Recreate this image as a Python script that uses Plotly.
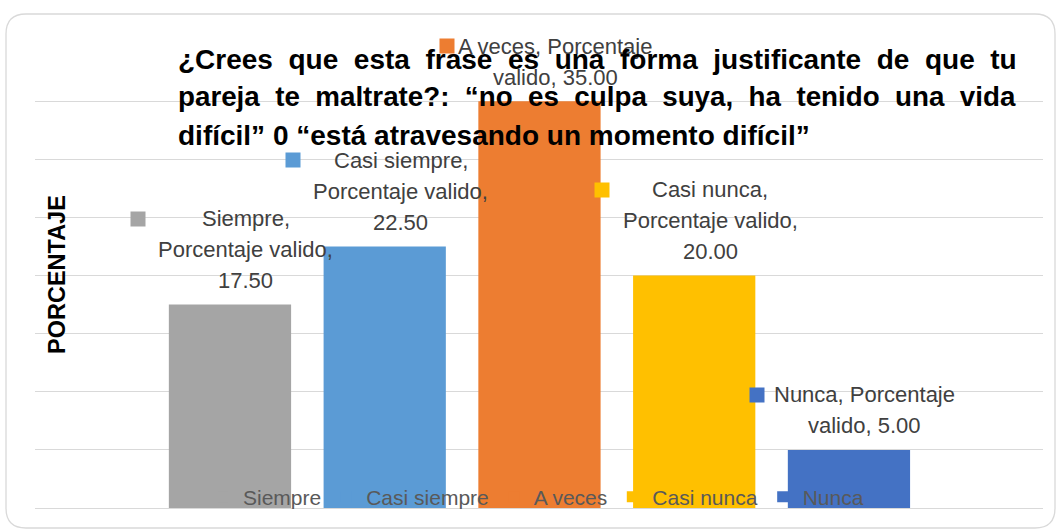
import plotly.graph_objects as go

categories = ["Siempre", "Casi siempre", "A veces", "Casi nunca", "Nunca"]
values = [17.50, 22.50, 35.00, 20.00, 5.00]
colors = ["#A5A5A5", "#5B9BD5", "#ED7D31", "#FFC000", "#4472C4"]
label_lines = [
    ["Siempre,", "Porcentaje valido,", "17.50"],
    ["Casi siempre,", "Porcentaje valido,", "22.50"],
    ["A veces, Porcentaje", "valido, 35.00"],
    ["Casi nunca,", "Porcentaje valido,", "20.00"],
    ["Nunca, Porcentaje", "valido, 5.00"],
]
title_lines = [
    "¿Crees que esta frase es una forma justificante de que tu",
    "pareja te maltrate?: “no es culpa suya, ha tenido una vida",
    "difícil” 0 “está atravesando un momento difícil”",
]
title_sizes = [28, 27.75, 28]
y_title = "PORCENTAJE"

W, H = 1059, 531
ML, MR, MT, MB = 35, 16, 43, 23
PW, PH = W - ML - MR, H - MT - MB

def px(xp):
    return (xp - ML) / PW

def py(yp):
    return (H - MB - yp) / PH

FONT = "Liberation Sans"
LBL = "#404040"

fig = go.Figure()
for c, v, col in zip(categories, values, colors):
    fig.add_trace(go.Bar(x=[c], y=[v], name=c, marker=dict(color=col, line=dict(width=0)),
                         width=0.79, showlegend=False))
for c, col in zip(categories, colors):
    fig.add_trace(go.Scatter(x=[None], y=[None], mode="markers", name=c,
                             marker=dict(symbol="square", color=col, size=11),
                             showlegend=True))

ann = []
for c, v, col, lines in zip(categories, values, colors, label_lines):
    n = len(lines)
    for i, t in enumerate(lines):
        k = n - 1 - i
        ann.append(dict(x=c, y=v, xref="x", yref="y", text=t, showarrow=False,
                        xanchor="center", yanchor="middle", xshift=16,
                        yshift=24 + 31 * k,
                        font=dict(family=FONT, size=22, color=LBL)))
    ann.append(dict(x=c, y=v, xref="x", yref="y", text=" ", showarrow=False,
                    xanchor="center", yanchor="middle", xshift=-92,
                    yshift=24 + 31 * (n - 1), width=14, height=14,
                    bgcolor=col, borderpad=0, font=dict(size=4)))

nb = " \u00a0"
for i, t in enumerate(title_lines):
    txt = t.replace(" ", nb) if i < 2 else t
    ann.append(dict(x=px(176), y=py(59 + 38 * i), xref="paper", yref="paper",
                    text="<b>" + txt + "</b>", showarrow=False,
                    xanchor="left", yanchor="middle",
                    font=dict(family=FONT, size=title_sizes[i], color="#000000")))

ann.append(dict(x=px(57), y=py(275), xref="paper", yref="paper",
                text="<b>" + y_title + "</b>", textangle=-90, showarrow=False,
                xanchor="center", yanchor="middle",
                font=dict(family=FONT, size=23.5, color="#000000")))

r = 20
x0, x1, y0, y1 = 6, 1055, 14, 528
path = (f"M {px(x0+r)},{py(y0)} L {px(x1-r)},{py(y0)} Q {px(x1)},{py(y0)} {px(x1)},{py(y0+r)} "
        f"L {px(x1)},{py(y1-r)} Q {px(x1)},{py(y1)} {px(x1-r)},{py(y1)} "
        f"L {px(x0+r)},{py(y1)} Q {px(x0)},{py(y1)} {px(x0)},{py(y1-r)} "
        f"L {px(x0)},{py(y0+r)} Q {px(x0)},{py(y0)} {px(x0+r)},{py(y0)} Z")

fig.update_layout(
    width=W, height=H,
    margin=dict(l=ML, r=MR, t=MT, b=MB, pad=0),
    paper_bgcolor="white", plot_bgcolor="white",
    barmode="overlay",
    showlegend=True,
    legend=dict(orientation="h", x=px(203), y=py(497), xanchor="left", yanchor="middle",
                bgcolor="rgba(0,0,0,0)", font=dict(family=FONT, size=21, color="#595959"),
                traceorder="normal", itemclick=False, itemdoubleclick=False),
    xaxis=dict(type="category", categoryorder="array", categoryarray=categories,
               range=[-1.26, 5.254], showticklabels=False, showgrid=False,
               zeroline=False, showline=False, ticks=""),
    yaxis=dict(range=[0, 40], dtick=5, showticklabels=False, showgrid=True,
               gridcolor="#D9D9D9", gridwidth=1.3, zeroline=True, zerolinecolor="#D9D9D9",
               zerolinewidth=1.3, showline=False, ticks=""),
    annotations=ann,
    shapes=[dict(type="path", xref="paper", yref="paper", path=path,
                 line=dict(color="#D9D9D9", width=1.3), layer="below")],
)

fig.write_html("out.html", config={"displayModeBar": False},
               post_script="document.body.style.margin='0';")
